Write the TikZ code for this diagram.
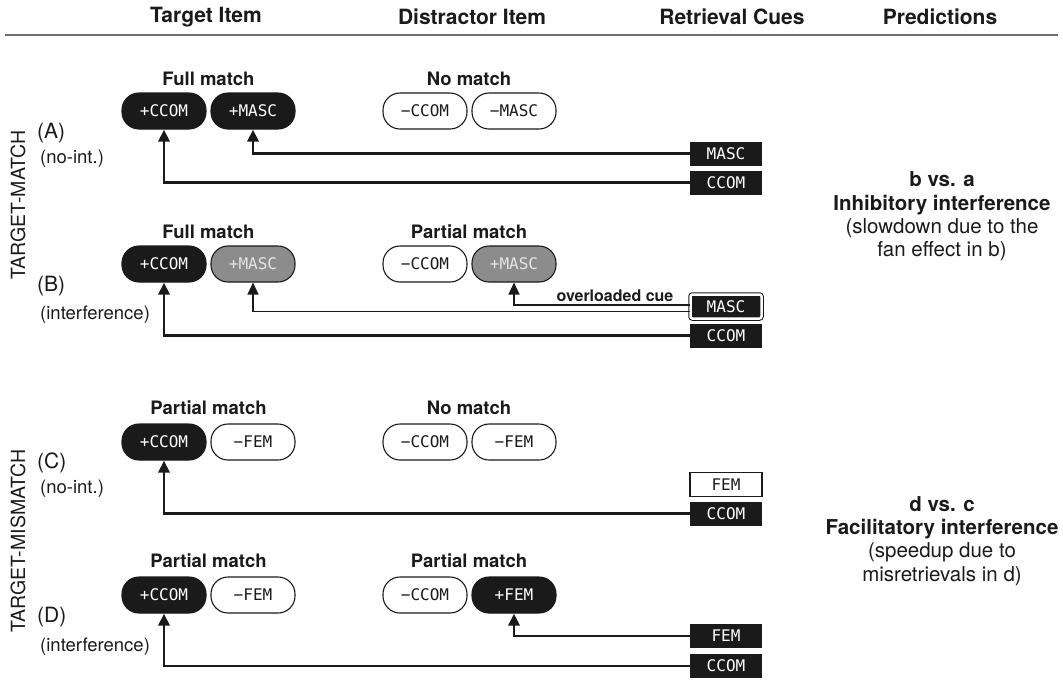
\documentclass[tikz,border=0pt]{standalone}
\usepackage{fontspec}
\setmainfont{TeX Gyre Heros}
\setmonofont{DejaVu Sans Mono}
\usetikzlibrary{positioning,calc,arrows.meta}

\definecolor{ink}{HTML}{1A1A1A}
\definecolor{pillgrey}{HTML}{8C8C8C}
\definecolor{pilltext}{HTML}{E4E4E4}
\definecolor{rulegrey}{HTML}{6E6E6E}

\newcommand{\hdfont}{\bfseries\fontsize{21}{25}\selectfont}
\newcommand{\grpfont}{\bfseries\fontsize{18.5}{22}\selectfont}
\newcommand{\cuefont}{\ttfamily\fontsize{16}{19}\selectfont}
\newcommand{\sidefont}{\fontsize{19.5}{23}\selectfont}
\newcommand{\tagfont}{\fontsize{21}{25}\selectfont}
\newcommand{\smfont}{\fontsize{18.5}{22}\selectfont}
\newcommand{\predfont}{\fontsize{20.5}{23.3}\selectfont}
\newcommand{\ovfont}{\bfseries\fontsize{16}{19}\selectfont}

\begin{document}
\begin{tikzpicture}[x=1pt, y=-1pt, >={Triangle[length=12pt,width=11pt]}]
	\useasboundingbox (0,0) rectangle (1063,681);
	\begin{scope}
		\tikzstyle{every node}=[align=center, inner sep=0pt, text=ink]
		\tikzstyle{pill}=[rectangle, rounded corners=17pt, minimum width=84pt, minimum height=36pt, line width=1.1pt, draw=ink, font=\cuefont]
		\tikzstyle{pillon}=[pill, fill=ink, text=white]
		\tikzstyle{pilloff}=[pill, fill=white]
		\tikzstyle{pillgray}=[pill, fill=pillgrey, text=pilltext]
		\tikzstyle{cue}=[rectangle, minimum width=72pt, minimum height=24pt, fill=ink, text=white, font=\cuefont]
		\tikzstyle{cueoff}=[cue, fill=white, draw=ink, line width=1.1pt, text=ink]
		\tikzstyle{cueover}=[cue, minimum width=71pt, draw=ink, line width=1pt, double=white, double distance=2.5pt, rounded corners=2pt]
		\tikzstyle{conn}=[->, line width=2.8pt, draw=ink]
		\tikzstyle{overconn}=[->, line width=1.3pt, draw=ink]

		% column heads
		\node[font=\hdfont] (hdtgt)  at (206, 17) {Target Item};
		\node[font=\hdfont] (hddis)  at (472, 17) {Distractor Item};
		\node[font=\hdfont] (hdcue)  at (732, 17) {Retrieval Cues};
		\node[font=\hdfont] (hdpred) at (940, 17) {Predictions};
		\draw[rulegrey, line width=2pt] (5, 35) -- (1058, 35);

		% condition labels
		\node[font=\sidefont, rotate=90] (tmatch) at (18, 205) {TARGET-MATCH};
		\node[font=\sidefont, rotate=90] (tmis)   at (18, 541) {TARGET-MISMATCH};
		\node[font=\tagfont, anchor=west] (taga)  at (37, 133) {(A)};
		\node[font=\smfont, anchor=west]  (suba)  at (40, 159) {(no-int.)};
		\node[font=\tagfont, anchor=west] (tagb)  at (37, 286) {(B)};
		\node[font=\smfont, anchor=west]  (subb)  at (40, 315) {(interference)};
		\node[font=\tagfont, anchor=west] (tagc)  at (37, 463) {(C)};
		\node[font=\smfont, anchor=west]  (subc)  at (40, 489) {(no-int.)};
		\node[font=\tagfont, anchor=west] (tagd)  at (37, 617) {(D)};
		\node[font=\smfont, anchor=west]  (subd)  at (40, 647) {(interference)};

		% (A)
		\node[font=\grpfont] (alt) at (208.5, 79) {Full match};
		\node[font=\grpfont] (ald) at (469, 79)   {No match};
		\node[pillon]  (atc) at (164, 111) {+CCOM};
		\node[pillon]  (atm) at (253, 111) {+MASC};
		\node[pilloff] (adc) at (425, 111) {−CCOM};
		\node[pilloff] (adm) at (514, 111) {−MASC};
		\node[cue] (acm) at (726, 153.5) {MASC};
		\node[cue] (acc) at (726, 182.5) {CCOM};

		% (B)
		\node[font=\grpfont] (blt) at (208.5, 232) {Full match};
		\node[font=\grpfont] (bld) at (469, 232)   {Partial match};
		\node[pillon]   (btc) at (164, 264) {+CCOM};
		\node[pillgray] (btm) at (253, 264) {+MASC};
		\node[pilloff]  (bdc) at (425, 264) {−CCOM};
		\node[pillgray] (bdm) at (514, 264) {+MASC};
		\node[cueover] (bcm) at (726, 306.5) {MASC};
		\node[cue]     (bcc) at (726, 335.5) {CCOM};
		\node[font=\ovfont] (over) at (615, 296) {overloaded cue};

		% (C)
		\node[font=\grpfont] (clt) at (208.5, 408) {Partial match};
		\node[font=\grpfont] (cld) at (469, 408)   {No match};
		\node[pillon]  (ctc) at (164, 442) {+CCOM};
		\node[pilloff] (ctf) at (253, 442) {−FEM};
		\node[pilloff] (cdc) at (425, 442) {−CCOM};
		\node[pilloff] (cdf) at (514, 442) {−FEM};
		\node[cueoff] (ccf) at (726, 484.5) {FEM};
		\node[cue]    (ccc) at (726, 513.5) {CCOM};

		% (D)
		\node[font=\grpfont] (dlt) at (208.5, 561) {Partial match};
		\node[font=\grpfont] (dld) at (469, 561)   {Partial match};
		\node[pillon]  (dtc) at (164, 595) {+CCOM};
		\node[pilloff] (dtf) at (253, 595) {−FEM};
		\node[pilloff] (ddc) at (425, 595) {−CCOM};
		\node[pillon]  (ddf) at (514, 595) {+FEM};
		\node[cue] (dcf) at (726, 636) {FEM};
		\node[cue] (dcc) at (726, 666) {CCOM};

		% predictions
		\node[font=\predfont] (predab) at (942, 216.5) {\textbf{b vs. a}\\\textbf{Inhibitory interference}\\(slowdown due to the\\fan effect in b)};
		\node[font=\predfont] (predcd) at (942, 541) {\textbf{d vs. c}\\\textbf{Facilitatory interference}\\(speedup due to\\misretrievals in d)};

		% cue links
		\draw[conn] (acm.west) -| (atm.south);
		\draw[conn] (acc.west) -| (atc.south);

		\draw[overconn] ([yshift=1.5pt]bcm.west) -| (bdm.south);
		\draw[overconn] ([yshift=-5pt]bcm.west) -| (btm.south);
		\draw[conn] (bcc.west) -| (btc.south);

		\draw[conn] (ccc.west) -| (ctc.south);

		\draw[conn] (dcf.west) -| (ddf.south);
		\draw[conn] (dcc.west) -| (dtc.south);
	\end{scope}
\end{tikzpicture}
\end{document}
